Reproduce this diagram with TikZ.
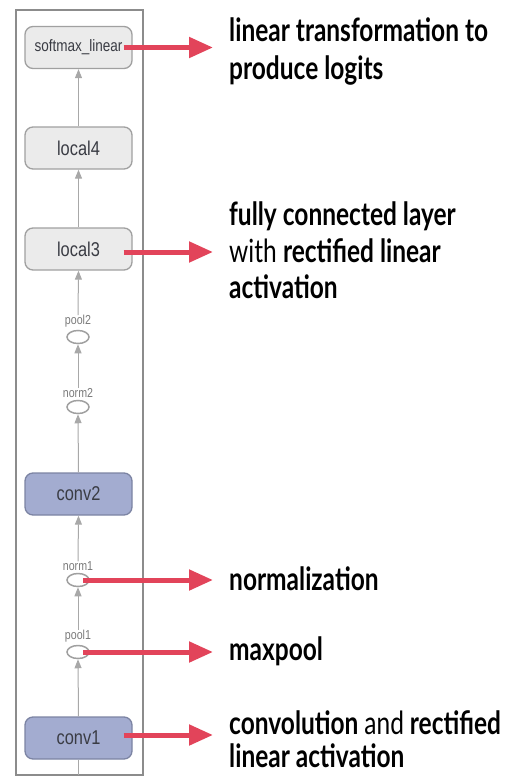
\documentclass[tikz,border=0pt]{standalone}
\usepackage{fontspec}
\usetikzlibrary{arrows.meta,shapes.geometric}
\newfontfamily\annotfont[FakeStretch=0.765]{Lato}
\newfontfamily\boxfont[FakeStretch=0.82]{Liberation Sans}
\definecolor{framegray}{HTML}{8C8C8C}
\definecolor{boxfill}{HTML}{EBEBEB}
\definecolor{boxline}{HTML}{A0A0A0}
\definecolor{convfill}{HTML}{A3ACD0}
\definecolor{convline}{HTML}{7C84A3}
\definecolor{boxtext}{HTML}{3A3C44}
\definecolor{edgegray}{HTML}{A8A8A8}
\definecolor{redarrow}{HTML}{E2445A}
\definecolor{labelgray}{HTML}{7A7A7A}
\tikzset{
  layer/.style={draw=boxline, fill=boxfill, line width=1.3pt, rounded corners=8pt,
    minimum width=107pt, minimum height=42pt, inner sep=0pt, text=boxtext,
    font=\boxfont\fontsize{20}{22}\selectfont},
  convlayer/.style={layer, draw=convline, fill=convfill},
  opnode/.style={ellipse, draw=boxline, fill=white, line width=1.5pt,
    minimum width=22pt, minimum height=13pt, inner sep=0pt},
  oplabel/.style={inner sep=0pt, text=labelgray, font=\boxfont\fontsize{13}{15}\selectfont},
  garrow/.style={draw=edgegray, line width=1pt, -{Triangle[length=9pt,width=7pt]}},
  gline/.style={draw=edgegray, line width=1pt},
  rarrow/.style={draw=redarrow, line width=5pt, -{Triangle[length=24pt,width=20pt]}},
  annot/.style={anchor=base west, inner sep=0pt, text=black,
    font=\annotfont\fontsize{32}{38}\selectfont}
}
\begin{document}
\begin{tikzpicture}[x=1pt,y=-1pt]
\useasboundingbox (0,0) rectangle (507,776);
\clip (0,0) rectangle (507,776);
% frame
\draw[framegray, line width=1.5pt] (16,10) rectangle (143,775);
% layers
\node[layer, font=\boxfont\fontsize{16.5}{19}\selectfont] (softmax) at (78.5,47.5) {softmax\_linear};
\node[layer] (local4) at (78.5,148) {local4};
\node[layer] (local3) at (78.5,249) {local3};
\node[opnode, label={[name=pool2l, oplabel, label distance=2pt]above:pool2}] (pool2) at (78,337) {};
\node[opnode, label={[name=norm2l, oplabel, label distance=2pt]above:norm2}] (norm2) at (78,407) {};
\node[convlayer] (conv2) at (78.5,494) {conv2};
\node[opnode, label={[name=norm1l, oplabel, label distance=2pt]above:norm1}] (norm1) at (78,580) {};
\node[opnode, label={[name=pool1l, oplabel, label distance=2pt]above:pool1}] (pool1) at (78,652) {};
\node[convlayer] (conv1) at (78.5,738) {conv1};
\coordinate (inputend) at (78.5,775);
% graph edges
\draw[gline] (conv1.south) -- (inputend);
\draw[garrow] (conv1.north) -- (pool1.south);
\draw[garrow] (pool1l.north) -- (norm1.south);
\draw[garrow] (norm1l.north) -- (conv2.south);
\draw[garrow] (conv2.north) -- (norm2.south);
\draw[garrow] (norm2l.north) -- (pool2.south);
\draw[garrow] (pool2l.north) -- (local3.south);
\draw[garrow] (local3.north) -- (local4.south);
\draw[garrow] (local4.north) -- (softmax.south);
% red arrows
\coordinate (tipA) at (213,47.5);
\coordinate (tipB) at (213,252);
\coordinate (tipC) at (213,580);
\coordinate (tipD) at (213,652);
\coordinate (tipE) at (213,735);
\draw[rarrow] ([xshift=-9pt]softmax.east) -- (tipA);
\draw[rarrow] ([xshift=-9pt,yshift=-3pt]local3.east) -- (tipB);
\draw[rarrow] ([xshift=5pt]norm1.center) -- (tipC);
\draw[rarrow] ([xshift=5pt]pool1.center) -- (tipD);
\draw[rarrow] ([xshift=-9pt,yshift=3pt]conv1.east) -- (tipE);
% annotations
\node[annot] (t1a) at (229,42) {\bfseries linear transformation to};
\node[annot] (t1b) at (229,79) {\bfseries produce logits};
\node[annot] (t2a) at (229,225) {\bfseries fully connected layer};
\node[annot] (t2b) at (229,262) {with \bfseries rectified linear};
\node[annot] (t2c) at (229,298) {\bfseries activation};
\node[annot] (t3) at (229,590) {\bfseries normalization};
\node[annot] (t4) at (229,660) {\bfseries maxpool};
\node[annot] (t5a) at (229,734) {\bfseries convolution {\mdseries and} rectified};
\node[annot] (t5b) at (229,767) {\bfseries linear activation};
\end{tikzpicture}
\end{document}
